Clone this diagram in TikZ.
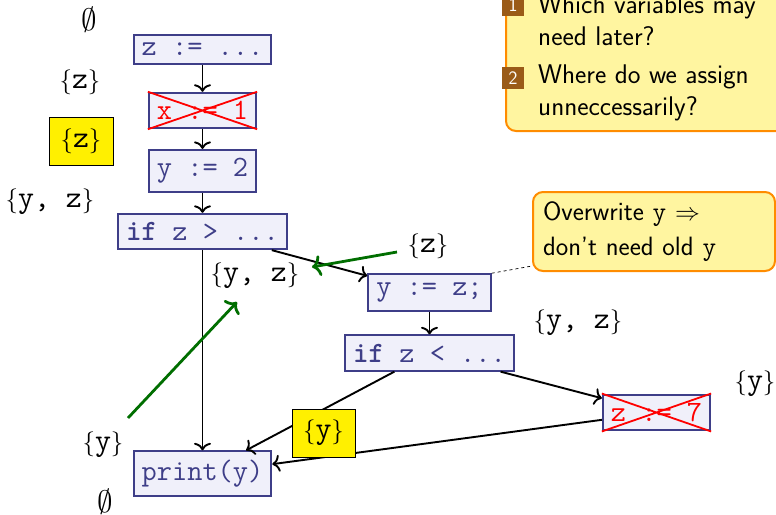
\documentclass[tikz,border=0pt]{standalone}
\usepackage{fontspec}
\usetikzlibrary{arrows.meta}
\definecolor{bxfill}{RGB}{240,240,250}
\definecolor{bxdraw}{RGB}{62,62,136}
\definecolor{lblyel}{RGB}{255,240,0}
\definecolor{cofill}{RGB}{255,245,160}
\definecolor{codraw}{RGB}{255,140,0}
\definecolor{grn}{RGB}{0,110,0}
\definecolor{brn}{RGB}{154,91,24}
\newcommand\stmtsize{\fontsize{29.5}{35}\selectfont}
\newcommand\cosize{\fontsize{27}{33}\selectfont}
\newcommand\setof[1]{{\fontsize{23}{28}\selectfont$\{$\fontsize{31}{36}\selectfont\texttt{#1}\fontsize{23}{28}\selectfont$\}$}}
\newcommand\emptylbl{\scalebox{3.1}{$\emptyset$}}
\tikzset{
  stmt/.style={draw=bxdraw, fill=bxfill, line width=2.1pt, inner xsep=8pt, inner ysep=8.5pt, text=bxdraw, font=\stmtsize\ttfamily},
  dead/.style={stmt, text=red},
  cross/.style={red, line width=1.8pt},
  flow/.style={-{To[length=7.5pt,width=17pt]}, line width=1.9pt, black},
  gflow/.style={-{To[length=9pt,width=21pt]}, line width=2.8pt, grn},
  setlbl/.style={inner sep=0pt},
  hilite/.style={draw=black, line width=0.9pt, fill=lblyel, minimum width=64pt, minimum height=48pt, inner sep=0pt},
  callout/.style={draw=codraw, fill=cofill, line width=2pt, rounded corners=10pt, font=\cosize\sffamily},
  cotext/.style={inner sep=0pt, font=\cosize\sffamily, anchor=base west},
  numbox/.style={fill=brn, text=white, minimum size=22pt, inner sep=0pt, font=\fontsize{19}{22}\selectfont\sffamily},
  note/.style={black, dashed, line width=0.7pt}
}
\begin{document}
\begin{tikzpicture}[x=1pt,y=-1pt]
\useasboundingbox (0,0) rectangle (776,514);
\clip (0,0) rectangle (776,514);
% statements
\node[stmt] (b1) at (202.5,49.5) {z := ...};
\node[dead] (b2) at (202.5,110.5) {x := 1};
\node[stmt] (b3) at (202.5,171) {y := 2};
\node[stmt] (b4) at (202.5,231.5) {\textbf{if} z > ...};
\node[stmt] (b5) at (429.5,292.5) {y := z;};
\node[stmt] (b6) at (429.5,353) {\textbf{if} z < ...};
\node[dead] (b7) at (656.5,412.5) {z := 7};
\node[stmt] (b8) at (202.5,473.5) {print(y)};
\draw[cross] (b2.north west) -- (b2.south east) (b2.south west) -- (b2.north east);
\draw[cross] (b7.north west) -- (b7.south east) (b7.south west) -- (b7.north east);
% control flow
\draw[flow] (b1) -- (b2);
\draw[flow] (b2) -- (b3);
\draw[flow] (b3) -- (b4);
\draw[flow] (b4) -- (b5);
\draw[flow] (b4) -- (b8);
\draw[flow] (b5) -- (b6);
\draw[flow] (b6) -- (b8);
\draw[flow] (b6) -- (b7);
\draw[flow] (b7) -- (b8);
% liveness sets
\node[setlbl] (e1) at (89,19.5) {\emptylbl};
\node[setlbl] (s1) at (80,82) {\setof{z}};
\node[hilite] (h1) at (81,141) {\setof{z}};
\node[setlbl] (s2) at (50,202) {\setof{y, z}};
\node[setlbl] (s3) at (428,246) {\setof{z}};
\node[setlbl] (s4) at (255,276) {\setof{y, z}};
\node[setlbl] (s5) at (578,323) {\setof{y, z}};
\node[setlbl] (s6) at (755,384) {\setof{y}};
\node[setlbl] (s7) at (103,445) {\setof{y}};
\node[setlbl] (e2) at (105,502) {\emptylbl};
\node[hilite, minimum width=63pt] (h2) at (323.5,433) {\setof{y}};
% green arrows
\coordinate (g1s) at (397,252);
\coordinate (g1e) at (312,267);
\coordinate (g2s) at (128,418);
\coordinate (g2e) at (237,302);
\draw[gflow] (g1s) -- (g1e);
\draw[gflow] (g2s) -- (g2e);
% callouts
\node[callout, minimum width=320pt, minimum height=170pt] (qs) at (666,46) {};
\node[numbox] (n1) at (513,5) {1};
\node[numbox] (n2) at (513,78) {2};
\node[cotext] (q1a) at (538,13) {Which variables may};
\node[cotext] (q1b) at (538,45) {need later?};
\node[cotext] (q2a) at (538,83) {Where do we assign};
\node[cotext] (q2b) at (538,115) {unneccessarily?};
\node[callout, text width=222pt, inner xsep=10pt, align=left, minimum height=79pt, font=\fontsize{26.5}{35}\selectfont\sffamily] (ow) at (654,231.5) {Overwrite \texttt{y} $\Rightarrow$\\don't need old \texttt{y}};
\draw[note] (b5.north east) -- ([yshift=6pt]ow.south west);
\end{tikzpicture}
\end{document}
